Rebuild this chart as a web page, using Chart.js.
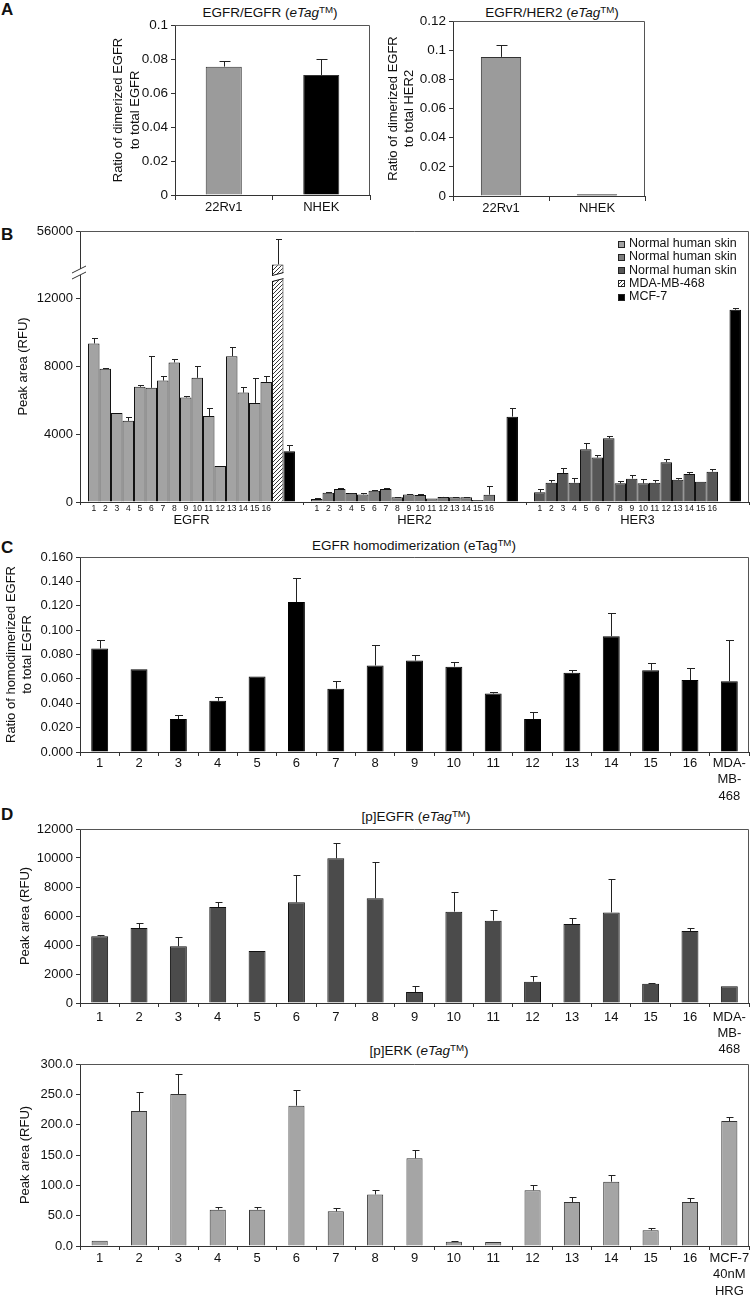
<!DOCTYPE html>
<html><head><meta charset="utf-8">
<script src="https://cdn.jsdelivr.net/npm/chart.js@4.4.1/dist/chart.umd.min.js"></script>
<style>
html,body{margin:0;padding:0;background:#fff;}
body{width:752px;height:1297px;position:relative;overflow:hidden;font-family:"Liberation Sans",Arial,sans-serif;color:#111;}
canvas{position:absolute;}
.ttl{position:absolute;font-size:13.5px;white-space:nowrap;transform:translate(-50%,-50%);line-height:1;}
.ttl sup{font-size:0.72em;position:relative;top:-0.45em;vertical-align:baseline;line-height:0;}
.pl{position:absolute;font-weight:bold;font-size:17px;line-height:1;}
</style></head><body>
<div class="pl" style="left:1px;top:1px">A</div>
<div class="pl" style="left:1px;top:226px">B</div>
<div class="pl" style="left:1px;top:539px">C</div>
<div class="pl" style="left:1px;top:806px">D</div>
<div class="ttl" style="left:270px;top:13px">EGFR/EGFR (<i>eTag</i><sup>TM</sup>)</div>
<div class="ttl" style="left:552px;top:13px">EGFR/HER2 (<i>eTag</i><sup>TM</sup>)</div>
<div class="ttl" style="left:414px;top:546px">EGFR homodimerization (eTag<sup>TM</sup>)</div>
<div class="ttl" style="left:416px;top:817px">[p]EGFR (<i>eTag</i><sup>TM</sup>)</div>
<div class="ttl" style="left:419px;top:1051px">[p]ERK (<i>eTag</i><sup>TM</sup>)</div>
<script>
// ================= DATA =================
// Panel A
const aCategories = ['22Rv1', 'NHEK'];
const aEgfrEgfrRatio = [0.0755, 0.0706];
const aEgfrEgfrErr = [0.0035, 0.0092];
const aEgfrHer2Ratio = [0.0954, 0.0012];
const aEgfrHer2Err = [0.0082, 0];

// Panel B
const bGroups = ['EGFR', 'HER2', 'HER3'];
const bSampleNumbers = ['1','2','3','4','5','6','7','8','9','10','11','12','13','14','15','16'];
const bSkinEGFR = [9360, 7860, 5260, 4790, 6800, 6740, 7170, 8240, 6170, 7330, 5080, 2130, 8610, 6460, 5850, 7090];
const bSkinEGFRErr = [350, 60, 0, 200, 120, 1890, 240, 180, 100, 710, 470, 0, 550, 320, 1500, 350];
const bSkinHER2 = [180, 550, 770, 530, 450, 670, 770, 280, 450, 410, 200, 300, 280, 280, 120, 430];
const bSkinHER2Err = [40, 40, 60, 20, 100, 40, 60, 20, 40, 40, 0, 20, 20, 20, 0, 530];
const bSkinHER3 = [570, 1140, 1710, 1140, 3110, 2620, 3760, 1100, 1380, 1100, 1140, 2350, 1320, 1660, 1200, 1790];
const bSkinHER3Err = [180, 180, 320, 300, 380, 140, 140, 160, 200, 280, 180, 160, 120, 140, 0, 160];
const bMDA468 = [34300, null, null];
const bMDA468Err = [16300, 0, 0];
const bMCF7 = [3000, 5040, 11350];
const bMCF7Err = [350, 510, 120];
const bLegendLabels = ['Normal human skin', 'Normal human skin', 'Normal human skin', 'MDA-MB-468', 'MCF-7'];

// Panel C
const cCategories = ['1','2','3','4','5','6','7','8','9','10','11','12','13','14','15','16',['MDA-','MB-','468']];
const cHomodimerRatio = [0.085, 0.068, 0.027, 0.042, 0.062, 0.123, 0.052, 0.071, 0.075, 0.070, 0.048, 0.027, 0.065, 0.095, 0.067, 0.059, 0.058];
const cHomodimerErr = [0.007, 0, 0.003, 0.003, 0, 0.020, 0.006, 0.017, 0.005, 0.004, 0.001, 0.006, 0.002, 0.019, 0.006, 0.010, 0.034];

// Panel D (top: [p]EGFR)
const dCategories = ['1','2','3','4','5','6','7','8','9','10','11','12','13','14','15','16',['MDA-','MB-','468']];
const dPEGFR = [4600, 5170, 3910, 6620, 3590, 6940, 9980, 7220, 760, 6300, 5680, 1470, 5450, 6250, 1330, 4970, 1150];
const dPEGFRErr = [70, 350, 640, 320, 0, 1890, 1060, 2500, 410, 1380, 710, 370, 410, 2300, 50, 200, 0];

// Panel D (bottom: [p]ERK)
const eCategories = ['1','2','3','4','5','6','7','8','9','10','11','12','13','14','15','16',['MCF-7','40nM','HRG']];
const dPERK = [8.8, 222.5, 250.5, 59.9, 59.9, 231.3, 57.1, 85.0, 144.5, 7.1, 6.6, 91.8, 72.5, 106.0, 25.8, 72.5, 206.0];
const dPERKErr = [0, 31.3, 32.5, 4.9, 4.9, 26.4, 6.1, 7.7, 13.7, 0.5, 0, 8.2, 8.8, 10.5, 3.3, 6.6, 6.0];

// ================= HELPERS =================
Chart.defaults.font.family = '"Liberation Sans", Arial, sans-serif';
Chart.defaults.font.size = 13;
Chart.defaults.color = '#111';
const AX = '#333';
const FAM = '"Liberation Sans", Arial, sans-serif';

function mkCanvas(left, top, w, h) {
  const c = document.createElement('canvas');
  c.width = w; c.height = h;
  c.style.left = left + 'px'; c.style.top = top + 'px';
  c.style.width = w + 'px'; c.style.height = h + 'px';
  document.body.appendChild(c);
  return c;
}
function yScale(o) {
  return {
    type: 'linear', min: o.min, max: o.max,
    ticks: {stepSize: o.step, callback: o.fmt, padding: 3, color: '#111', font: {size: o.fs || 13}},
    grid: {drawOnChartArea: false, tickLength: 4, color: AX, lineWidth: 1},
    border: {color: AX, width: 1},
    title: {display: true, text: o.title, padding: 0, color: '#111', font: {size: 13, lineHeight: 1.3}},
    afterFit(s) { s.width = o.width; }
  };
}
function xScale(o) {
  return {
    type: 'category', offset: true,
    grid: {offset: true, drawOnChartArea: false, tickLength: o.tl || 4, color: AX, lineWidth: 1},
    border: {color: AX, width: 1},
    ticks: {padding: o.pad, autoSkip: false, maxRotation: 0, minRotation: 0, color: '#111',
            font: {size: o.fs || 13, lineHeight: o.lh || 1.2}},
    afterFit(s) { s.height = o.height; }
  };
}
function errorBars(sets, cap, color, map) {
  return {
    id: 'errorBars',
    afterDatasetsDraw(chart) {
      const ctx = chart.ctx, ys = chart.scales.y;
      ctx.save();
      ctx.strokeStyle = color; ctx.lineWidth = 1;
      sets.forEach(s => {
        const meta = chart.getDatasetMeta(s.ds);
        s.vals.forEach((v, j) => {
          const e = s.errs[j];
          if (v == null || !e) return;
          const el = meta.data[j];
          const x = Math.round(el.x) + 0.5;
          const yt = Math.round(ys.getPixelForValue(map ? map(v + e) : v + e)) + 0.5;
          ctx.beginPath();
          ctx.moveTo(x, el.y); ctx.lineTo(x, yt);
          ctx.moveTo(x - cap, yt); ctx.lineTo(x + cap + 1, yt);
          ctx.stroke();
        });
      });
      ctx.restore();
    }
  };
}
const framePlugin = {
  id: 'frame',
  afterDraw(chart) {
    const {ctx, chartArea: a} = chart;
    ctx.save();
    ctx.strokeStyle = '#555'; ctx.lineWidth = 1;
    const t = Math.round(a.top) + 0.5, r = Math.round(a.right) - 0.5;
    ctx.beginPath();
    ctx.moveTo(a.left, t); ctx.lineTo(r, t); ctx.lineTo(r, a.bottom);
    ctx.stroke();
    ctx.restore();
  }
};
const commonOpts = (pad, scales) => ({
  responsive: false, animation: false, devicePixelRatio: 1,
  layout: {padding: pad},
  plugins: {legend: {display: false}, tooltip: {enabled: false}, title: {display: false}},
  scales
});
const fmtFixed = d => v => (+v).toFixed(d);
const fmtShort = v => String(+(+v).toFixed(3));

// ================= PANEL A =================
(function () {
  const cv = mkCanvas(0, 0, 380, 215);
  new Chart(cv, {
    type: 'bar',
    data: {labels: aCategories, datasets: [{
      data: aEgfrEgfrRatio, backgroundColor: ['#9b9b9b', '#000'], borderColor: '#333', borderWidth: 1,
      barPercentage: 0.37, categoryPercentage: 1
    }]},
    options: commonOpts({left: 110, top: 25, right: 10, bottom: 0}, {
      x: xScale({height: 20, pad: 0, tl: 5}),
      y: yScale({min: 0, max: 0.1, step: 0.02, fmt: fmtShort, width: 65, fs: 13.5,
                 title: ['Ratio of dimerized EGFR', 'to total EGFR']})
    }),
    plugins: [framePlugin, errorBars([{ds: 0, vals: aEgfrEgfrRatio, errs: aEgfrEgfrErr}], 5, '#222')]
  });
  const cv2 = mkCanvas(380, 0, 372, 215);
  new Chart(cv2, {
    type: 'bar',
    data: {labels: aCategories, datasets: [{
      data: aEgfrHer2Ratio, backgroundColor: ['#9b9b9b', '#000'], borderColor: '#333', borderWidth: 1,
      barPercentage: 0.42, categoryPercentage: 1
    }]},
    options: commonOpts({left: 4.5, top: 21, right: 107, bottom: 0}, {
      x: xScale({height: 19, pad: 0, tl: 5}),
      y: yScale({min: 0, max: 0.12, step: 0.02, fmt: fmtShort, width: 68.5, fs: 13.5,
                 title: ['Ratio of dimerized EGFR', 'to total HER2']})
    }),
    plugins: [framePlugin, errorBars([{ds: 0, vals: aEgfrHer2Ratio, errs: aEgfrHer2Err}], 5, '#222')]
  });
})();

// ================= PANEL B =================
(function () {
  const BREAK_FROM = 12000, SQUEEZE = 11;
  const bMap = v => v <= BREAK_FROM ? v : BREAK_FROM + (v - BREAK_FROM) / SQUEEZE;
  const bUnmap = v => v <= BREAK_FROM ? v : BREAK_FROM + (v - BREAK_FROM) * SQUEEZE;
  const cv = mkCanvas(0, 215, 752, 315);
  const ctx0 = cv.getContext('2d');
  const pc = document.createElement('canvas'); pc.width = 4; pc.height = 4;
  const p = pc.getContext('2d');
  p.fillStyle = '#fff'; p.fillRect(0, 0, 4, 4);
  p.strokeStyle = '#222'; p.lineWidth = 0.9;
  p.beginPath(); p.moveTo(0, 4); p.lineTo(4, 0); p.moveTo(-1, 1); p.lineTo(1, -1); p.moveTo(3, 5); p.lineTo(5, 3); p.stroke();
  const hatch = ctx0.createPattern(pc, 'repeat');
  const SKIN = ['#a3a3a3', '#7d7d7d', '#575757'];

  const datasets = bSampleNumbers.map((n, i) => ({
    label: 'Normal human skin ' + n,
    data: [bSkinEGFR[i], bSkinHER2[i], bSkinHER3[i]].map(bMap),
    backgroundColor: SKIN, borderColor: '#111', borderWidth: 1
  }));
  datasets.push({label: 'MDA-MB-468', data: bMDA468.map(v => v == null ? null : bMap(v)),
                 backgroundColor: hatch, borderColor: '#111', borderWidth: 1});
  datasets.push({label: 'MCF-7', data: bMCF7.map(bMap), backgroundColor: '#000', borderColor: '#000', borderWidth: 1});

  const errSets = bSampleNumbers.map((n, i) => ({ds: i,
    vals: [bSkinEGFR[i], bSkinHER2[i], bSkinHER3[i]],
    errs: [bSkinEGFRErr[i], bSkinHER2Err[i], bSkinHER3Err[i]]}));
  errSets.push({ds: 16, vals: bMDA468, errs: bMDA468Err});
  errSets.push({ds: 17, vals: bMCF7, errs: bMCF7Err});

  const legendFills = [SKIN[0], SKIN[1], SKIN[2], hatch, '#000'];
  const BREAK_AXIS = 13600, BREAK_BAR = 13250;

  const extras = {
    id: 'bExtras',
    afterDraw(chart) {
      const {ctx, chartArea: a} = chart;
      const ys = chart.scales.y;
      ctx.save();
      // sample numbers under bars
      ctx.font = '8.5px ' + FAM; ctx.fillStyle = '#111';
      ctx.textAlign = 'center'; ctx.textBaseline = 'middle';
      bSampleNumbers.forEach((n, i) => {
        chart.getDatasetMeta(i).data.forEach(el => ctx.fillText(n, el.x, a.bottom + 7));
      });
      // axis break marks
      const yb = Math.round(ys.getPixelForValue(BREAK_AXIS));
      ctx.fillStyle = '#fff';
      ctx.fillRect(a.left - 2, yb - 3, 4, 6);
      ctx.strokeStyle = '#333'; ctx.lineWidth = 1;
      ctx.beginPath();
      ctx.moveTo(a.left - 8, yb + 1); ctx.lineTo(a.left + 6, yb - 6);
      ctx.moveTo(a.left - 8, yb + 7); ctx.lineTo(a.left + 6, yb);
      ctx.stroke();
      // gap in the broken MDA-MB-468 bar
      const el = chart.getDatasetMeta(16).data[0];
      const L = el.x - el.width / 2, R = el.x + el.width / 2;
      const yg = ys.getPixelForValue(BREAK_BAR);
      ctx.fillStyle = '#fff';
      ctx.beginPath();
      ctx.moveTo(L - 1, yg + 4); ctx.lineTo(R + 1, yg + 1); ctx.lineTo(R + 1, yg - 5); ctx.lineTo(L - 1, yg - 2);
      ctx.closePath(); ctx.fill();
      ctx.strokeStyle = '#111';
      ctx.beginPath();
      ctx.moveTo(L, yg + 4); ctx.lineTo(R, yg + 1);
      ctx.moveTo(L, yg - 2); ctx.lineTo(R, yg - 5);
      ctx.stroke();
      // legend
      const lx = a.right - 131, ly = a.top + 12.5;
      ctx.font = '12.5px ' + FAM; ctx.textAlign = 'left'; ctx.textBaseline = 'middle';
      bLegendLabels.forEach((t, i) => {
        const y = ly + i * 13.3;
        ctx.fillStyle = legendFills[i];
        ctx.fillRect(lx, Math.round(y) - 3, 7, 7);
        ctx.strokeStyle = '#222';
        ctx.strokeRect(lx + 0.5, Math.round(y) - 2.5, 6, 6);
        ctx.fillStyle = '#111';
        ctx.fillText(t, lx + 11, y);
      });
      ctx.restore();
    }
  };

  new Chart(cv, {
    type: 'bar',
    data: {labels: bGroups, datasets},
    options: Object.assign(commonOpts({left: 14.5, top: 16, right: 3, bottom: 0}, {
      x: xScale({height: 28, pad: 8, tl: 3}),
      y: yScale({min: 0, max: 16000, step: 4000, fmt: v => String(bUnmap(+v)), width: 65.5,
                 title: 'Peak area (RFU)'})
    }), {datasets: {bar: {barPercentage: 1, categoryPercentage: 0.928}}}),
    plugins: [framePlugin, errorBars(errSets, 2.5, '#222', bMap), extras]
  });
})();

// ================= PANEL C =================
(function () {
  const cv = mkCanvas(0, 530, 752, 280);
  new Chart(cv, {
    type: 'bar',
    data: {labels: cCategories, datasets: [{
      data: cHomodimerRatio, backgroundColor: '#000', borderColor: '#000', borderWidth: 1,
      barPercentage: 0.43, categoryPercentage: 1
    }]},
    options: commonOpts({left: 2.5, top: 27, right: 3, bottom: 0}, {
      x: xScale({height: 58, pad: -1.5, tl: 4, lh: 1.3}),
      y: yScale({min: 0, max: 0.16, step: 0.02, fmt: fmtFixed(3), width: 77.5,
                 title: ['Ratio of homodimerized EGFR', 'to total EGFR']})
    }),
    plugins: [framePlugin, errorBars([{ds: 0, vals: cHomodimerRatio, errs: cHomodimerErr}], 3.5, '#222')]
  });
})();

// ================= PANEL D =================
(function () {
  const cv = mkCanvas(0, 805, 752, 255);
  new Chart(cv, {
    type: 'bar',
    data: {labels: dCategories, datasets: [{
      data: dPEGFR, backgroundColor: '#4b4b4b', borderColor: '#111', borderWidth: 1,
      barPercentage: 0.43, categoryPercentage: 1
    }]},
    options: commonOpts({left: 16.5, top: 24, right: 3, bottom: 0}, {
      x: xScale({height: 57, pad: 1.9, tl: 4, lh: 1.25}),
      y: yScale({min: 0, max: 12000, step: 2000, fmt: v => String(+v), width: 63.5,
                 title: 'Peak area (RFU)'})
    }),
    plugins: [framePlugin, errorBars([{ds: 0, vals: dPEGFR, errs: dPEGFRErr}], 3, '#222')]
  });
  const cv2 = mkCanvas(0, 1040, 752, 257);
  new Chart(cv2, {
    type: 'bar',
    data: {labels: eCategories, datasets: [{
      data: dPERK, backgroundColor: '#a5a5a5', borderColor: '#333', borderWidth: 1,
      barPercentage: 0.41, categoryPercentage: 1
    }]},
    options: commonOpts({left: 16.5, top: 24, right: 3, bottom: 0}, {
      x: xScale({height: 51, pad: 0.4, tl: 4, lh: 1.25}),
      y: yScale({min: 0, max: 300, step: 50, fmt: fmtFixed(1), width: 63.5,
                 title: 'Peak area (RFU)'})
    }),
    plugins: [framePlugin, errorBars([{ds: 0, vals: dPERK, errs: dPERKErr}], 3, '#222')]
  });
})();
</script>
</body></html>
